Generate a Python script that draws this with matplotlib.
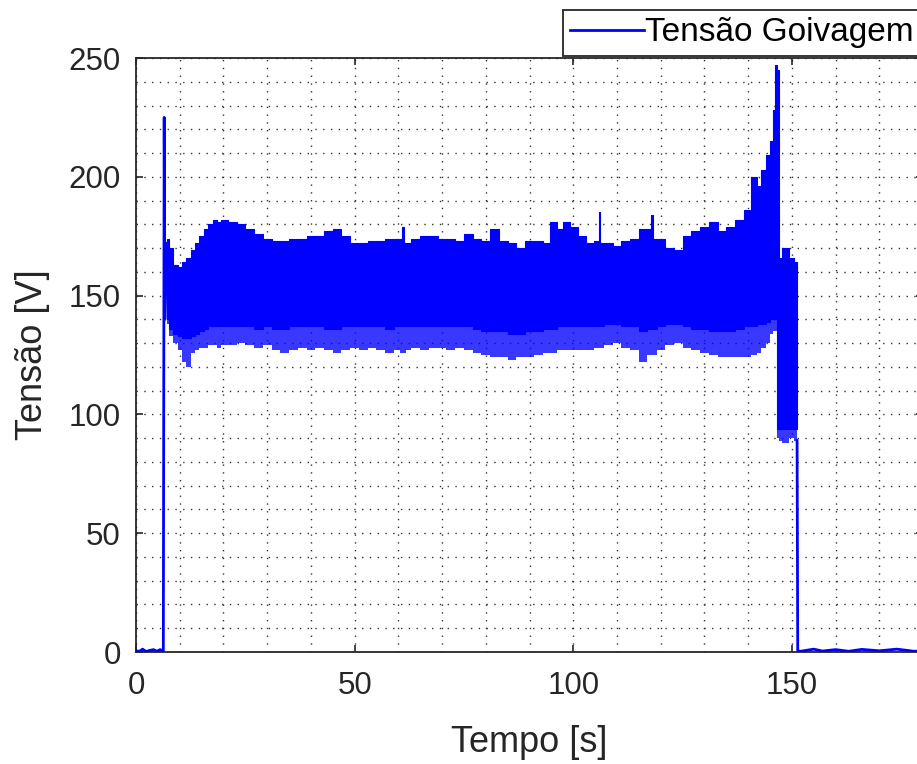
import matplotlib
matplotlib.use('Agg')
import matplotlib.pyplot as plt
from matplotlib.ticker import MultipleLocator
import numpy as np

plt.rcParams['font.family'] = ['Liberation Sans', 'DejaVu Sans']

# signal before / after the arc
t_pre = [0, 0.8, 1.5, 2.3, 3.0, 4.0, 4.8, 5.5, 6.1, 6.25, 6.45, 6.6, 7.0]
v_pre = [0.5, 0.3, 1.2, 0.2, 0.6, 1.0, 0.3, 1.0, 0.5, 0.5, 225, 140, 172]

t_post = [151.2, 151.35, 152, 155, 157, 160, 163, 166, 170, 174, 178, 182]
v_post = [89, 0.5, 0.3, 1.2, 0.4, 1.0, 0.3, 1.1, 0.5, 1.2, 0.3, 0.8]

# arc voltage band: upper envelope, solid-core lower edge, lower envelope
t_env = [7, 8, 9, 10, 11, 12, 13, 14, 15, 16, 17, 18, 19, 20, 22, 24, 26, 28,
         30, 32, 34, 36, 38, 40, 42, 44, 46, 48, 50, 52, 54, 56, 58, 60,
         60.7, 61.0, 61.4, 62, 64, 66, 68, 70, 72, 74, 76, 78, 80, 82, 84, 86,
         88, 90, 92, 94, 95.5, 97, 98.5, 100, 102, 104, 105.7, 106.0, 106.3,
         108, 110, 112, 114, 116, 117.6, 118.0, 118.5, 120, 122, 124, 126, 128,
         130, 132, 134, 136, 138, 140, 141.5, 142.5, 143.5, 144.5, 145.5,
         146.0, 146.4, 146.8, 147.2, 148.5, 150, 151.2]
upper = [174, 170, 163, 162, 164, 166, 169, 172, 175, 178, 180, 182, 181, 182,
         181, 180, 178, 176, 174, 173, 173, 174, 174, 175, 175, 177, 178, 175,
         172, 172, 173, 173, 174, 174, 174, 179, 172, 172, 174, 175, 175, 174,
         174, 173, 176, 174, 173, 178, 173, 172, 170, 173, 173, 172, 181, 178,
         181, 179, 175, 172, 173, 185, 172, 172, 171, 173, 174, 178, 178, 184,
         174, 174, 170, 169, 175, 177, 179, 181, 177, 179, 182, 186, 200, 196,
         203, 209, 215, 228, 247, 245, 166, 170, 166, 164]
core_lo = [140, 136, 134, 133, 132, 132, 133, 134, 135, 136, 137, 137, 137,
           137, 137, 137, 137, 136, 137, 136, 136, 137, 137, 137, 137, 136, 136,
           137, 137, 137, 137, 137, 136, 137, 137, 137, 137, 137, 137, 137, 137,
           137, 137, 137, 137, 136, 135, 135, 135, 134, 134, 135, 135, 136, 136,
           137, 137, 137, 137, 137, 137, 137, 137, 138, 138, 137, 137, 135, 136,
           136, 136, 137, 138, 138, 137, 136, 136, 135, 135, 135, 136, 137, 137,
           138, 138, 139, 140, 140, 140, 94, 94, 94, 94, 94]
lower = [138, 133, 130, 127, 122, 120, 126, 127, 128, 128, 129, 129, 128, 129,
         129, 130, 129, 128, 129, 127, 126, 127, 128, 127, 128, 127, 126, 127,
         128, 127, 128, 127, 126, 127, 126, 126, 126, 127, 128, 127, 128, 128,
         127, 128, 127, 126, 125, 124, 124, 123, 124, 124, 125, 126, 126, 127,
         127, 127, 127, 127, 128, 128, 128, 129, 130, 128, 127, 122, 125, 125,
         125, 127, 129, 130, 128, 127, 126, 125, 124, 124, 124, 124, 125, 126,
         128, 130, 134, 135, 135, 90, 89, 88, 90, 89]

x_ticks = [0, 50, 100, 150]
y_ticks = [0, 50, 100, 150, 200, 250]

fig = plt.figure(figsize=(9.17, 7.64), dpi=100)
ax = fig.add_axes([136/917, 112/764, 787/917, 594/764])

blue = '#0000ff'
t = np.array(t_env)
ax.fill_between(t, core_lo, upper, step='mid', color=blue, lw=0.8,
                edgecolor=blue, zorder=3)
ax.fill_between(t, lower, core_lo, step='mid', color=blue, alpha=0.78, lw=0,
                zorder=3)
ax.plot(t_pre, v_pre, color=blue, lw=2, zorder=4, label='Tensão Goivagem')
ax.plot(t_post, v_post, color=blue, lw=2, zorder=4)

ax.set_xlim(0, 180)
ax.set_ylim(0, 250)
ax.set_xticks(x_ticks)
ax.set_yticks(y_ticks)
ax.xaxis.set_minor_locator(MultipleLocator(10))
ax.yaxis.set_minor_locator(MultipleLocator(10))
ax.tick_params(which='major', direction='in', length=5, width=1.2, top=True,
               right=True, labelsize=22.5, colors='0.15')
ax.tick_params(axis='x', pad=14)
ax.tick_params(axis='y', pad=11)
ax.tick_params(which='minor', length=0)
ax.grid(which='both', linestyle=(0, (1, 4.6)), color='0.2', lw=1.0)
ax.set_axisbelow(True)
for s in ax.spines.values():
    s.set_color('0.15')
    s.set_linewidth(1.3)

ax.set_xlabel('Tempo [s]', fontsize=26, color='0.15', va='center')
ax.set_ylabel('Tensão [V]', fontsize=26, color='0.15', va='center')
ax.xaxis.set_label_coords(0.5, -90/594)
ax.yaxis.set_label_coords(-103/787, 0.5)

leg = ax.legend(loc='upper left', bbox_to_anchor=(563/917, 1 - 10/764),
                bbox_transform=fig.transFigure, fontsize=24, frameon=True,
                fancybox=False, framealpha=1, borderpad=0.22,
                handlelength=2.2, handletextpad=0.05, borderaxespad=0)
leg.get_frame().set_edgecolor('0.15')
leg.get_frame().set_linewidth(1.3)
leg.set_zorder(10)

fig.savefig('out.png', dpi=100)
